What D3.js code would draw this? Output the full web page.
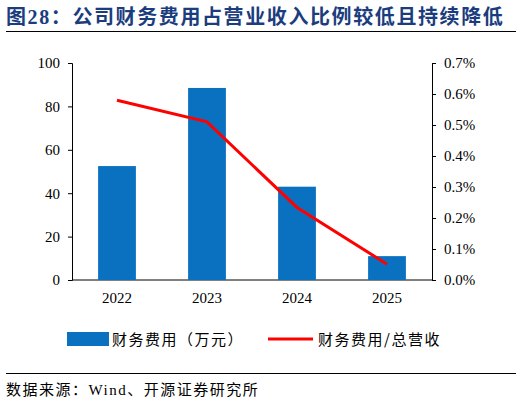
<!DOCTYPE html><html><head><meta charset="utf-8"><script src="https://cdn.jsdelivr.net/npm/d3@7"></script>
<style>body{margin:0;background:#fff}</style></head><body><svg id="c" width="522" height="406"></svg>
<script>
const categories=["2022","2023","2024","2025"];
const expense=[52.5,88.5,43,11];
const ratio=[0.0058,0.0051,0.00234,0.00051];
const leftTicks=[0,20,40,60,80,100];
const rightTicks=[0,0.001,0.002,0.003,0.004,0.005,0.006,0.007];
const svg=d3.select("#c");
const serif="'Liberation Serif','Times New Roman',serif", cjk="'Noto Sans CJK SC',sans-serif";
svg.append("text").attr("x",6).attr("y",24).attr("fill","#1b3d7e").attr("font-weight","bold").attr("font-size",20).attr("letter-spacing",1.6).attr("font-family",serif+","+cjk).text("图28：公司财务费用占营业收入比例较低且持续降低");
svg.append("line").attr("x1",6).attr("x2",516).attr("y1",31.5).attr("y2",31.5).attr("stroke","#000");
const L=72,R=432,T=63,B=280;
const x=d3.scaleBand().domain(categories).range([L,R]).paddingInner(0.58).paddingOuter(0.29);
const y=d3.scaleLinear().domain([0,100]).range([B,T]);
const y2=d3.scaleLinear().domain([0,0.007]).range([B,T]);
const gl=svg.append("g").attr("transform",`translate(${L},0)`).call(d3.axisLeft(y).tickValues(leftTicks).tickSize(4).tickPadding(8));
const gr=svg.append("g").attr("transform",`translate(${R},0)`).call(d3.axisRight(y2).tickValues(rightTicks).tickFormat(d3.format(".1%")).tickSize(4).tickPadding(8));
const gb=svg.append("g").attr("transform",`translate(0,${B})`).call(d3.axisBottom(x).tickSize(0).tickPadding(12));
[gl,gr,gb].forEach(g=>{g.selectAll("text").attr("font-family",serif).attr("font-size",15).attr("fill","#000");g.selectAll("line,path").attr("stroke","#000");});
gb.select(".domain").attr("d",`M${L},0H${R}`);
svg.selectAll("rect.b").data(expense).join("rect").attr("x",(d,i)=>x(categories[i])).attr("width",x.bandwidth()).attr("y",d=>y(d)).attr("height",d=>B-y(d)).attr("fill","#0a70c0");
svg.append("path").datum(ratio).attr("fill","none").attr("stroke","#ff0000").attr("stroke-width",3)
 .attr("d",d3.line().x((d,i)=>x(categories[i])+x.bandwidth()/2).y(d=>y2(d)));
const lg=svg.append("g");
lg.append("rect").attr("x",67).attr("y",332).attr("width",42).attr("height",14).attr("fill","#0a70c0");
lg.append("text").attr("x",112).attr("y",345).attr("font-family",cjk).attr("font-size",15).attr("letter-spacing",1.5).text("财务费用（万元）");
lg.append("line").attr("x1",268).attr("x2",313).attr("y1",339).attr("y2",339).attr("stroke","#ff0000").attr("stroke-width",3);
lg.append("text").attr("x",318).attr("y",345).attr("font-family",cjk).attr("font-size",15).attr("letter-spacing",1.5).text("财务费用/总营收");
svg.append("line").attr("x1",6).attr("x2",516).attr("y1",373.5).attr("y2",373.5).attr("stroke","#000");
svg.append("text").attr("x",6).attr("y",395).attr("font-family",serif+","+cjk).attr("font-size",15).attr("letter-spacing",1.5).text("数据来源：Wind、开源证券研究所");
</script></body></html>
